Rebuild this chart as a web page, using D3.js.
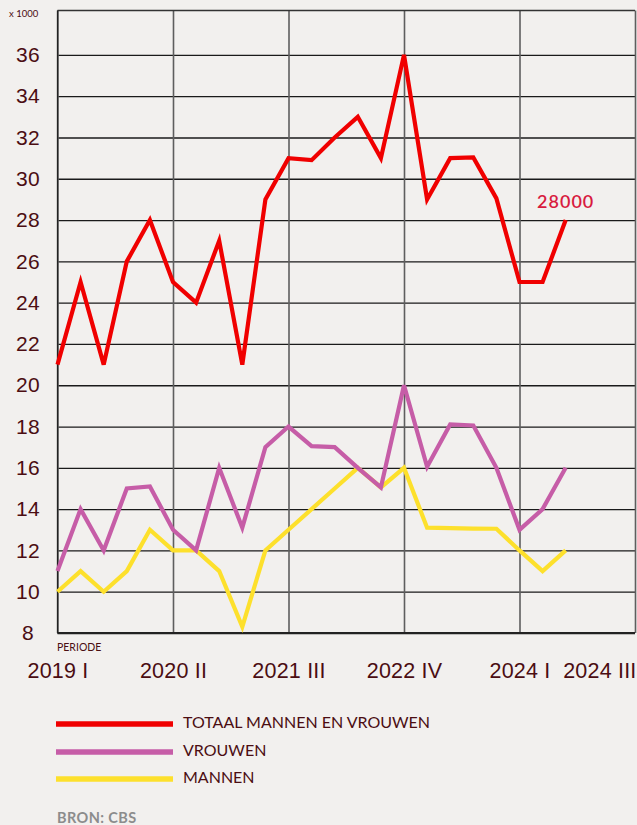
<!DOCTYPE html>
<html>
<head>
<meta charset="utf-8">
<script src="https://cdn.jsdelivr.net/npm/d3@7"></script>
<style>
  body { margin: 0; background: #f2f0ee; }
  svg { display: block; font-family: Lato, "Noto Sans", sans-serif; }
</style>
</head>
<body>
<div id="chart"></div>
<script>
// quarters 2019 I .. 2024 III (index 0..22), values x 1000
const totaal  = [21, 25, 21, 26, 28, 25, 24, 27, 21, 29, 31, 30.9, 32, 33, 31, 36, 29, 31, 31.03, 29.05, 25, 25, 28];
const vrouwen = [11, 14, 12, 15, 15.1, 13, 12, 16, 13.1, 17, 18, 17.05, 17, 16, 15.05, 20, 16.05, 18.1, 18.05, 16, 13, 14, 16];
const mannen  = [10, 11, 10, 11, 13, 12, 12, 11, 8.3, 12, 13, 14, 15, 16, 15.05, 16, 13.1, 13.08, 13.06, 13.05, 12, 11, 12];

const xTickIdx    = [0, 5, 10, 15, 20, 25];
const xTickLabels = ["2019 I", "2020 II", "2021 III", "2022 IV", "2024 I", "2024 III"];
const yTicks      = [8, 10, 12, 14, 16, 18, 20, 22, 24, 26, 28, 30, 32, 34, 36];

const seriesNames = ["TOTAAL MANNEN EN VROUWEN", "VROUWEN", "MANNEN"];
const seriesColors = ["#f00000", "#c65da7", "#fde02c"];
const lastLabel = "28000";

const W = 637, H = 825;
const textColor = "#4b0d12";

const svg = d3.select("#chart").append("svg")
    .attr("width", W).attr("height", H);

const x = d3.scaleLinear().domain([0, 25]).range([57.5, 635]);
const y = d3.scaleLinear().domain([8, 38.15]).range([633, 10.5]);

// horizontal grid + y labels
const yAxis = svg.append("g")
    .attr("transform", `translate(${x(0)},0)`)
    .call(d3.axisLeft(y).tickValues(yTicks).tickSize(-(x(25) - x(0))).tickFormat(d3.format("d")));
yAxis.select(".domain").remove();
yAxis.selectAll(".tick line").attr("stroke", "#1a1a1a").attr("stroke-width", 1.3);
yAxis.selectAll(".tick text")
    .attr("x", 28 - x(0))
    .attr("text-anchor", "middle")
    .attr("fill", textColor)
    .style("font-size", "21px")
    .style("letter-spacing", "0.3px");

// vertical grid + x labels
const xAxis = svg.append("g")
    .attr("transform", `translate(0,${y(8)})`)
    .call(d3.axisBottom(x).tickValues(xTickIdx).tickSize(-(y(8) - y(38.15)))
        .tickFormat((d, i) => xTickLabels[i]));
xAxis.select(".domain").remove();
xAxis.selectAll(".tick line").attr("stroke", "#5e5e5e").attr("stroke-width", 1.6);
xAxis.selectAll(".tick text")
    .attr("y", 45)
    .attr("dy", 0)
    .attr("fill", textColor)
    .style("font-size", "21.5px")
    .style("letter-spacing", "0.2px")
    .attr("text-anchor", (d, i) => i === xTickIdx.length - 1 ? "end" : "middle")
    .attr("dx", (d, i) => i === xTickIdx.length - 1 ? 1 : 0);

// frame
svg.append("line").attr("x1", x(0)).attr("x2", x(25)).attr("y1", y(38.15)).attr("y2", y(38.15))
    .attr("stroke", "#333").attr("stroke-width", 1.3);
svg.append("line").attr("x1", x(0)).attr("x2", x(25)).attr("y1", y(8)).attr("y2", y(8))
    .attr("stroke", "#222").attr("stroke-width", 2.2);
svg.append("line").attr("x1", x(0)).attr("x2", x(0)).attr("y1", y(38.15)).attr("y2", y(8))
    .attr("stroke", "#222").attr("stroke-width", 1.3);

// unit + periode labels
svg.append("text").attr("x", 9).attr("y", 17).text("x 1000")
    .attr("fill", textColor).style("font-size", "9.5px");
svg.append("text").attr("x", 57).attr("y", 651).text("PERIODE")
    .attr("fill", textColor).style("font-size", "10.5px");

// lines
const line = d3.line().x((d, i) => x(i)).y(d => y(d));
[mannen, vrouwen, totaal].forEach(function(s, k) {
    svg.append("path")
        .datum(s)
        .attr("fill", "none")
        .attr("stroke", seriesColors[2 - k])
        .attr("stroke-width", 4.2)
        .attr("stroke-linejoin", "miter")
        .attr("d", line);
});

// last value label
svg.append("text")
    .attr("x", x(totaal.length - 1))
    .attr("y", y(totaal[totaal.length - 1]) - 12)
    .attr("text-anchor", "middle")
    .attr("fill", "#d81b3f")
    .style("font-size", "18px")
    .style("font-weight", "600")
    .style("letter-spacing", "1px")
    .text(lastLabel);

// legend
const legend = svg.append("g");
seriesNames.forEach(function(name, i) {
    const ly = [724, 752, 779][i];
    legend.append("line")
        .attr("x1", 56).attr("x2", 173).attr("y1", ly).attr("y2", ly)
        .attr("stroke", seriesColors[i]).attr("stroke-width", 5.5);
    legend.append("text")
        .attr("x", 183).attr("y", ly + 3).attr("dy", "0.05em")
        .attr("fill", textColor)
        .style("font-size", "16px")
        .text(name);
});

svg.append("text").attr("x", 57).attr("y", 823).text("BRON: CBS")
    .attr("fill", "#8c8c8c").style("font-size", "14.5px").style("font-weight", "700")
    .style("letter-spacing", "0.4px");
</script>
</body>
</html>
